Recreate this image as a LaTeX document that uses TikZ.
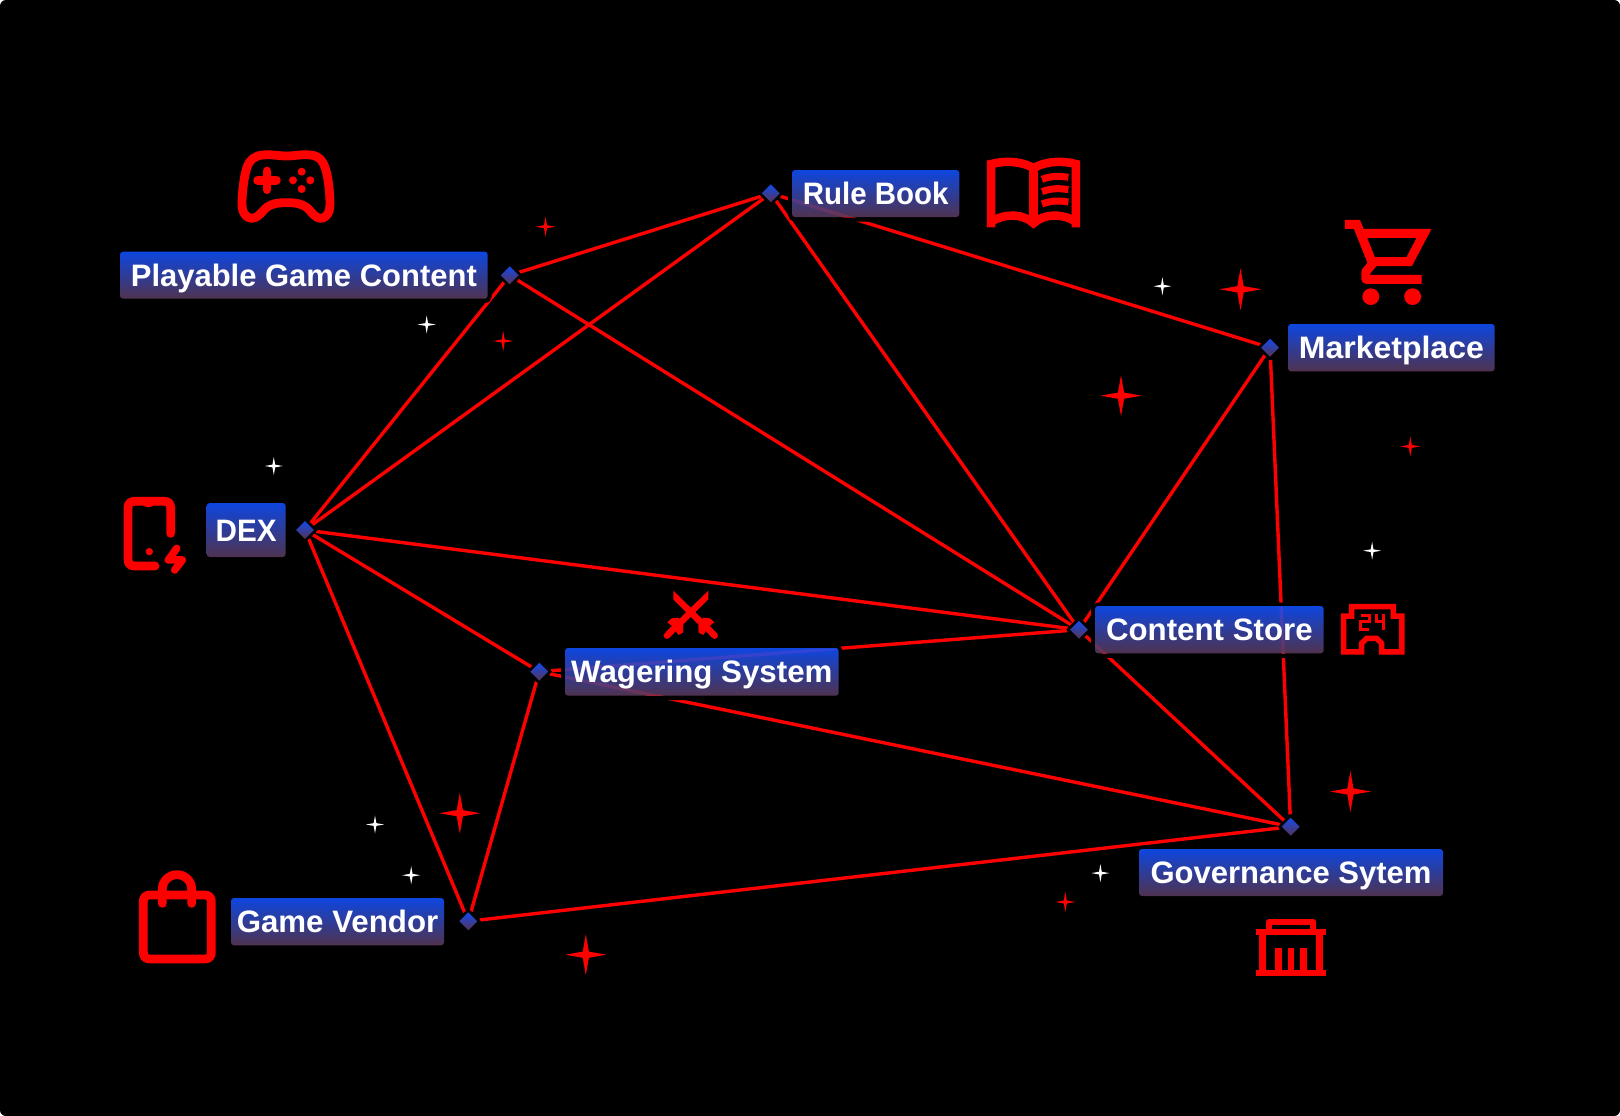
\documentclass[tikz,border=0pt]{standalone}
\usepackage{fontspec}
\usepackage{graphicx}
\setmainfont{Liberation Sans}
\usetikzlibrary{backgrounds}
\definecolor{lblTop}{HTML}{1050FF}
\definecolor{lblBot}{HTML}{5B3A5A}
\definecolor{pinTop}{HTML}{0B4CFF}
\definecolor{pinBot}{HTML}{5F3040}
\tikzset{
  link/.style={draw=red,line width=3.4pt},
  ic/.style={draw=red,line width=8.8pt,line cap=round,line join=round},
  pinbox/.style={rectangle,rotate=45,inner sep=0pt,minimum size=15.5pt,draw=black,line width=2.5pt,
     top color=pinTop,bottom color=pinBot},
  lblbox/.style={rectangle,rounded corners=3pt,inner sep=0pt,text=white,
     top color=lblTop,bottom color=lblBot,fill opacity=0.88,text opacity=1,
     text height=22pt,text depth=0pt,
     font=\bfseries\fontsize{31}{33}\selectfont},
}
% \lbl{name}{x1}{y1}{x2}{y2}{text width}{text}
\newcommand{\lbl}[7]{%
  \draw[black,line width=4pt,rounded corners=5pt] (#2-2,#3-1.5) rectangle (#4+2,#5+2.5);
  \pgfmathsetlengthmacro{\lw}{(#4-#2)*1pt}\pgfmathsetlengthmacro{\lh}{(#5-#3)*1pt}
  \node[lblbox,minimum width=\lw,minimum height=\lh] (#1) at ({(#2+#4)/2},{(#3+#5)/2}) {\resizebox{#6pt}{\height}{#7}};}
% \spark{x}{y}{r}{colour}
\newcommand{\spark}[4]{%
  \fill[#4,shift={(#1,#2)}] (0,-#3) -- ({.15*#3},{-.15*#3}) -- (#3,0) -- ({.15*#3},{.15*#3}) -- (0,#3)
     -- ({-.15*#3},{.15*#3}) -- (-#3,0) -- ({-.15*#3},{-.15*#3}) -- cycle;}
\begin{document}
\begin{tikzpicture}[x=1pt,y=-1pt]
\useasboundingbox (0,0) rectangle (1620,1116);
% pins
\node[pinbox] (pPlay) at (509.7,275.3) {};
\node[pinbox] (pRule) at (770.8,193.3) {};
\node[pinbox] (pMark) at (1270,347.7) {};
\node[pinbox] (pDex) at (305,530) {};
\node[pinbox] (pWager) at (539.3,671.7) {};
\node[pinbox] (pStore) at (1079,629.7) {};
\node[pinbox] (pGov) at (1290.7,826.7) {};
\node[pinbox] (pVend) at (468.3,921.3) {};
\begin{scope}[on background layer]
\fill[white] (0,0) rectangle (1620,1116);
\fill[black,rounded corners=6pt] (0,0) rectangle (1620,1116);
\draw[link] (pPlay) -- (pRule);
\draw[link] (pPlay) -- (pDex);
\draw[link] (pPlay) -- (pStore);
\draw[link] (pRule) -- (pDex);
\draw[link] (pRule) -- (pStore);
\draw[link] (pRule) -- (pMark);
\draw[link] (pMark) -- (pStore);
\draw[link] (pMark) -- (pGov);
\draw[link] (pDex) -- (pStore);
\draw[link] (pDex) -- (pWager);
\draw[link] (pDex) -- (pVend);
\draw[link] (pWager) -- (pStore);
\draw[link] (pWager) -- (pGov);
\draw[link] (pWager) -- (pVend);
\draw[link] (pStore) -- (pGov);
\draw[link] (pVend) -- (pGov);
\end{scope}
% labels
\lbl{lPlay}{120}{251.7}{487.7}{298.7}{346}{Playable Game Content}
\lbl{lRule}{792}{170}{959.4}{217}{145.7}{Rule Book}
\lbl{lMark}{1288}{324}{1494.7}{371.3}{185}{Marketplace}
\lbl{lDex}{206.7}{503}{285.7}{557}{61}{DEX}
\lbl{lWager}{565}{648}{838.7}{695.7}{261.4}{Wagering System}
\lbl{lStore}{1095}{606}{1323.7}{653.3}{206.6}{Content Store}
\lbl{lGov}{1139}{849}{1443}{896}{281}{Governance Sytem}
\lbl{lVend}{231}{898}{444}{945.3}{201.5}{Game Vendor}
% gamepad
\begin{scope}[shift={(100,130)},x=.3333pt,y=-.3333pt]
\draw[ic] (560,78) .. controls (535,78) and (515,72) .. (490,75) .. controls (465,76) and (448,90) .. (440,115)
  .. controls (432,140) and (426,190) .. (426,222) .. controls (426,250) and (440,265) .. (455,265)
  .. controls (475,265) and (485,245) .. (500,232) .. controls (515,222) and (530,218) .. (560,218)
  .. controls (590,218) and (605,222) .. (620,232) .. controls (635,245) and (645,265) .. (662,265)
  .. controls (678,265) and (690,250) .. (690,222) .. controls (690,190) and (685,140) .. (676,115)
  .. controls (668,90) and (655,76) .. (630,75) .. controls (605,72) and (585,78) .. (560,78) -- cycle;
\draw[ic] (473,151) -- (529,151) (501,123) -- (501,179);
\fill[red] (579,151) circle (12) (631,151) circle (12) (605,125) circle (12) (605,177) circle (12);
\end{scope}
% book
\begin{scope}[shift={(740,140)},x=.4975pt,y=-.3333pt]
\draw[ic,line width=8.5pt,line cap=butt,line join=miter] (505,262) -- (505,72) .. controls (535,60) and (570,65) .. (590,85)
  .. controls (610,65) and (645,60) .. (675,72) -- (675,262);
\draw[ic,line width=8.5pt,line cap=butt,line join=miter] (505,245) .. controls (535,218) and (570,222) .. (590,250)
  .. controls (610,222) and (645,218) .. (675,245);
\draw[ic,line width=8.5pt,line cap=butt] (590,80) -- (590,250);
\draw[ic,line width=7pt,line cap=butt] (607,118) .. controls (625,108) and (640,107) .. (660,112);
\draw[ic,line width=7pt,line cap=butt] (607,155) .. controls (625,145) and (640,144) .. (660,149);
\draw[ic,line width=7pt,line cap=butt] (607,192) .. controls (625,182) and (640,181) .. (660,186);
\end{scope}
% cart
\begin{scope}[shift={(740,140)},x=.4975pt,y=-.3333pt]
\draw[ic,line width=9pt,line cap=butt,line join=miter] (1216,253) -- (1240,253) -- (1270,365) -- (1345,365)
   -- (1375,280) -- (1245,280);
\draw[ic,line width=9pt,line cap=butt,line join=round] (1275,365) -- (1258,395) -- (1258,418) -- (1370,418);
\fill[red] (1268,470) ellipse (17 and 25) (1352,470) ellipse (17 and 25);
\end{scope}
% phone
\begin{scope}[shift={(100,480)},x=.3333pt,y=-.3333pt]
\draw[ic] (212,160) -- (212,84) .. controls (212,70) and (205,64) .. (192,64) -- (104,64)
  .. controls (91,64) and (84,70) .. (84,84) -- (84,238) .. controls (84,252) and (91,258) .. (104,258) -- (165,258);
\fill[red] (125,64) .. controls (130,80) and (135,82) .. (145,82) .. controls (155,82) and (160,80) .. (165,64) -- cycle;
\fill[red] (148,215) circle (11);
\draw[ic,line width=7.5pt] (230,205) -- (205,240) -- (247,240) -- (224,270);
\end{scope}
% swords
\begin{scope}[shift={(510,570)},x=.3333pt,y=-.3333pt]
\foreach \sx/\sd in {0/1,1085/-1}{
\begin{scope}[shift={(\sx,0)},xscale=\sd]
\fill[red] (490,62) -- (578,148) -- (564,162) -- (490,88) -- cycle;
\fill[red] (565,160) -- (580,143) -- (600,145) -- (613,157) -- (596,170) -- (580,195) -- (566,188) -- cycle;
\draw[ic,line width=6.5pt] (590,172) -- (614,197);
\end{scope}}
\end{scope}
% store
\begin{scope}[shift={(1060,580)},x=.3333pt,y=-.3333pt]
\draw[ic,line width=5.5pt,line cap=butt,line join=miter] (851,216) -- (851,108) -- (875,108) -- (875,80) -- (1000,80)
  -- (1000,108) -- (1026,108) -- (1026,216) -- (965,216) -- (965,190) -- (950,175) -- (920,175) -- (905,190) -- (905,216) -- cycle;
\draw[ic,line width=3pt,line cap=butt,line join=miter] (903,105) -- (928,105) -- (928,125) -- (903,125) -- (903,148) -- (928,148);
\draw[ic,line width=3pt,line cap=butt,line join=miter] (950,102) -- (950,125) -- (975,125) (972,102) -- (972,150);
\end{scope}
% governance
\begin{scope}[shift={(1120,800)},x=.3333pt,y=-.3333pt]
\tikzset{govline/.style={ic,line width=6.5pt,line cap=butt,line join=miter}}
\draw[govline] (408,519) -- (618,519) (408,396) -- (618,396);
\draw[govline] (428,396) -- (428,519) (598,396) -- (598,519);
\draw[govline] (475,445) -- (475,519) (513,445) -- (513,519) (551,445) -- (551,519);
\draw[ic,line width=6.5pt,line cap=butt,line join=round] (447,396) -- (447,366) -- (579,366) -- (579,396);
\end{scope}
% bag
\begin{scope}[shift={(120,850)},x=.3333pt,y=-.3333pt]
\draw[ic] (90,135) -- (254,135) .. controls (267,135) and (274,142) .. (274,155) -- (274,307)
  .. controls (274,320) and (267,327) .. (254,327) -- (90,327) .. controls (77,327) and (70,320) .. (70,307)
  -- (70,155) .. controls (70,142) and (77,135) .. (90,135) -- cycle;
\draw[ic] (127,160) -- (127,118) .. controls (127,92) and (148,74) .. (171,74) .. controls (194,74) and (215,92) .. (215,118) -- (215,160);
\end{scope}
% sparkles
\spark{426.7}{324.5}{9}{white}
\spark{273.8}{466}{9}{white}
\spark{1162.4}{286.2}{9}{white}
\spark{1372.1}{550.7}{9}{white}
\spark{375}{824.5}{9}{white}
\spark{411.2}{875.2}{9}{white}
\spark{1100.4}{873.1}{9}{white}
\spark{545.5}{226.7}{10}{red}
\spark{503.2}{341}{10}{red}
\spark{1240.5}{289.3}{21}{red}
\spark{1121}{395.7}{20.5}{red}
\spark{1410.3}{446.4}{10}{red}
\spark{459.8}{813.2}{20.5}{red}
\spark{1350.4}{791.5}{20.5}{red}
\spark{585.8}{954.7}{20.5}{red}
\spark{1065.3}{902}{10}{red}
\end{tikzpicture}
\end{document}
